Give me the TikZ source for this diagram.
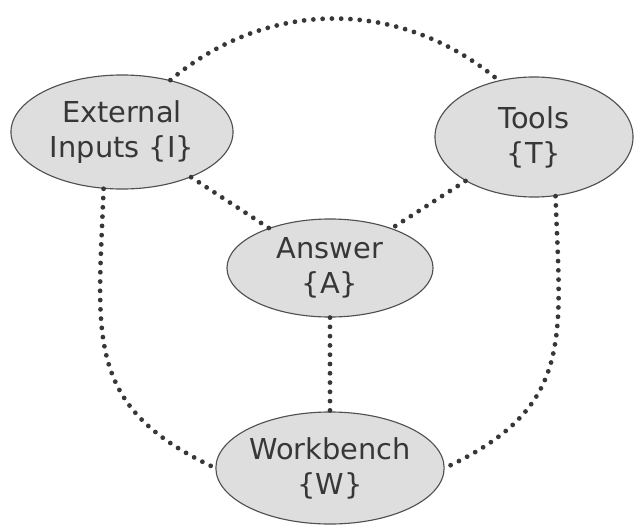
\documentclass[tikz,border=0pt]{standalone}
\usepackage{fontspec}
\setmainfont{DejaVu Sans}
\usetikzlibrary{shapes.geometric}
\definecolor{blobfill}{RGB}{222,222,222}
\definecolor{blobline}{RGB}{80,80,80}
\definecolor{inkgray}{RGB}{55,55,55}
\begin{document}
\begin{tikzpicture}[x=0.025cm, y=-0.025cm,
  blob/.style={ellipse, draw=blobline, line width=0.8pt, fill=blobfill, inner sep=0pt,
    align=center, text=inkgray, font=\fontsize{20.5}{25}\selectfont},
  link/.style={draw=inkgray, line width=3.4pt, line cap=round, dash pattern=on 0pt off 6.6pt}]
\useasboundingbox (0,0) rectangle (644,526);
\fill[white] (0,0) rectangle (644,526);
% the four parts
\node[blob, minimum width=5.55cm, minimum height=2.85cm] (ext) at (122,132) {External\\Inputs \{I\}};
\node[blob, minimum width=4.95cm, minimum height=3.0cm] (tools) at (534,137) {Tools\\\{T\}};
\node[blob, minimum width=5.15cm, minimum height=2.45cm] (ans) at (330,268) {Answer\\\{A\}};
\node[blob, minimum width=5.5cm, minimum height=2.8cm] (wb) at (330,468) {Workbench\\\{W\}};
% links to the answer
\draw[link] (ext) -- (ans);
\draw[link] (tools) -- (ans);
\draw[link] (ans) -- (wb);
% outer ring
\draw[link] (ext.47) to[out=40, in=140] (tools.122);
\draw[link] (ext.252) to[out=-92, in=155, looseness=1.25] (wb.west);
\draw[link] (tools.290) to[out=-88, in=25, looseness=1.25] (wb.east);
\end{tikzpicture}
\end{document}
